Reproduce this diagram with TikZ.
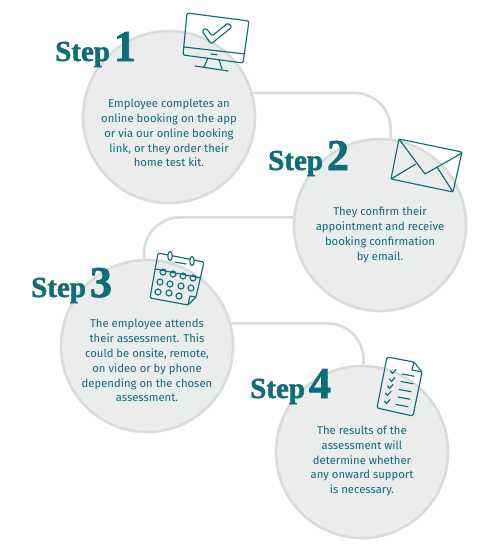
\documentclass[tikz,border=0pt]{standalone}
\usepackage{fontspec}
\setmainfont{Fira Sans}
\newfontfamily\stepfont{Liberation Serif}[BoldFeatures={FakeBold=1.6}]
\usetikzlibrary{positioning}
\definecolor{tealdark}{HTML}{0F6C79}
\definecolor{circfill}{HTML}{EBEDED}
\definecolor{circline}{HTML}{DADCDB}
\tikzset{
	x=1pt, y=-1pt,
	circ/.style={circle,draw=circline,line width=2.6pt,fill=circfill,minimum size=172pt,inner sep=0pt},
	link/.style={draw=circline,line width=2.6pt,rounded corners=36pt},
	body/.style={align=center,text=tealdark,font=\fontsize{11.3}{14.9}\selectfont,inner sep=0pt},
	steplabel/.style={anchor=base west,text=tealdark,inner sep=0pt,font=\stepfont\bfseries},
	icon/.style={draw=tealdark,line width=1.15pt,line join=round,line cap=round,fill=none},
}
\newcommand{\stepword}[1]{{\fontsize{29}{29}\selectfont Step\kern4pt}{\fontsize{44}{44}\selectfont #1}}

\begin{document}
\begin{tikzpicture}
		\useasboundingbox (0,0) rectangle (500,549);
		\fill[white] (0,0) rectangle (500,549);
		\node[circ] (CA) at (169,117) {};
		\node[circ] (CB) at (380,225) {};
		\node[circ] (CC) at (147,346) {};
		\node[circ] (CD) at (362,452) {};

		\draw[link] (CA.16) -| (CB.83);
		\draw[link] (CB.175) -| (CC.92);
		\draw[link] (CC.15) -| (CD.89);

		\node[steplabel] (S1) at (55,61) {\stepword{1}};
		\node[steplabel] (S2) at (268,170) {\stepword{2}};
		\node[steplabel] (S3) at (31,297) {\stepword{3}};
		\node[steplabel] (S4) at (250,398) {\stepword{4}};

		\node[body] (T1) at (169,133) {Employee completes an\\online booking on the app\\or via our online booking\\link, or they order their\\home test kit.};
		\node[body] (T2) at (380,234.5) {They confirm their\\appointment and receive\\booking confirmation\\by email.};
		\node[body] (T3) at (147,360.5) {The employee attends\\their assessment. This\\could be onsite, remote,\\on video or by phone\\depending on the chosen\\assessment.};
		\node[body] (T4) at (362,461) {The results of the\\assessment will\\determine whether\\any onward support\\is necessary.};

		% monitor
		\draw[icon,rounded corners=2pt] (187,13) -- (249,21) -- (243,63) -- (183,55) -- cycle;
		\draw[icon] (184,47) -- (245,54);
		\draw[icon] (211,54) -- (217,54.7);
		\draw[icon] (208,58) -- (204,67) (219,59.5) -- (222,69);
		\draw[icon] (195,66) -- (228,71);
		\draw[icon,rounded corners=1.5pt] (202,31) -- (206,28) -- (212,36) -- (228,23) -- (232,27) -- (211,44) -- cycle;
		% envelope
		\draw[icon,rounded corners=2pt] (399,139) -- (462,152) -- (453,192) -- (391,179) -- cycle;
		\draw[icon] (399,139) -- (425,174) -- (462,153);
		\draw[icon] (391,179) -- (416,164) (453,192) -- (437,167);
		% calendar
		\draw[icon,rounded corners=1.5pt] (158,253) -- (204,262) -- (196,297) -- (188,305) -- (150,298) -- cycle;
		\draw[icon] (188,305) -- (190,296) -- (196,297);
		\draw[icon] (155,269) -- (201,278);
		\draw[icon] (175,262) -- (186,264);
		\draw[icon,fill=white] (170,256) ellipse (2.2pt and 4.5pt) (192,261) ellipse (2.2pt and 4.5pt);
		\foreach \px/\py in {163/272,173/274,183/276,193/278,160/282,170/284,181/286,191/288,158/292,169/293,179/296}
			\draw[icon] (\px,\py) circle (3pt);
		% document
		\draw[icon,rounded corners=1.5pt] (387,357) -- (414,362) -- (422,372) -- (413,416) -- (377,408) -- cycle;
		\draw[icon] (414,362) -- (412,370) -- (422,372);
		\foreach \cx/\cy in {393/372,392/380,390/387,388/394,387/402}
			\draw[icon] (\cx-2.5,\cy-1) -- (\cx-0.5,\cy+1.5) -- (\cx+3,\cy-2.5);
		\foreach \lx/\ly in {402/374,401/381.5,399/389.5,398/397,396/404.5}
			\draw[icon] (\lx,\ly) -- (\lx+12,\ly+2.2);
	\end{tikzpicture}
\end{document}
